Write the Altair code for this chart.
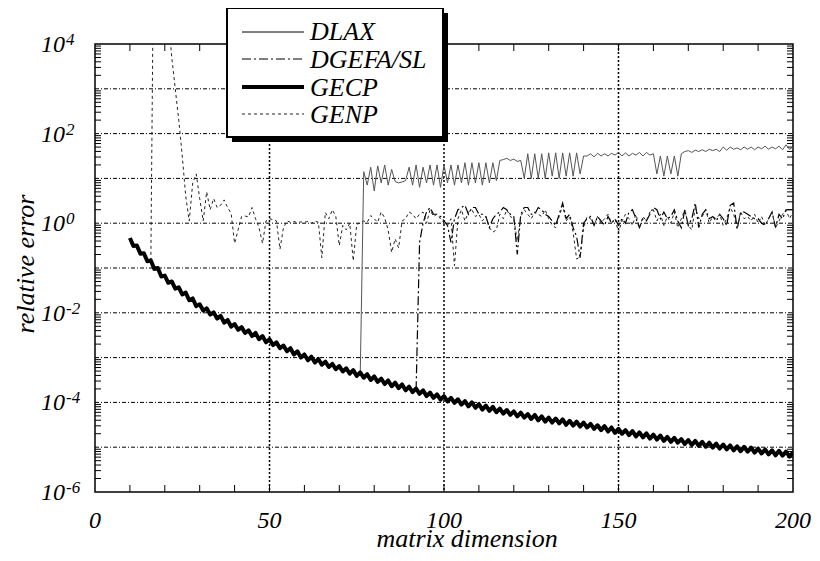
import altair as alt
import pandas as pd

FONT = "Liberation Serif"

# ---------------- data (log10 of relative error) ----------------
gecp_n = list(range(10, 201))
gecp_log10 = [
    -0.33, -0.51, -0.50, -0.68, -0.67, -0.85, -0.83, -1.02, -1.00, -1.19,
    -1.17, -1.33, -1.30, -1.46, -1.43, -1.59, -1.55, -1.72, -1.68, -1.85,
    -1.81, -1.95, -1.90, -2.04, -1.99, -2.13, -2.07, -2.22, -2.16, -2.31,
    -2.25, -2.38, -2.32, -2.45, -2.39, -2.52, -2.45, -2.59, -2.52, -2.66,
    -2.59, -2.72, -2.66, -2.79, -2.73, -2.86, -2.79, -2.93, -2.86, -3.00,
    -2.93, -3.06, -2.98, -3.11, -3.03, -3.16, -3.09, -3.21, -3.14, -3.26,
    -3.19, -3.31, -3.24, -3.36, -3.28, -3.41, -3.33, -3.45, -3.37, -3.50,
    -3.42, -3.54, -3.47, -3.59, -3.51, -3.64, -3.56, -3.68, -3.60, -3.73,
    -3.65, -3.77, -3.69, -3.81, -3.73, -3.86, -3.78, -3.90, -3.82, -3.94,
    -3.86, -3.98, -3.90, -4.01, -3.93, -4.05, -3.97, -4.09, -4.00, -4.12,
    -4.04, -4.16, -4.07, -4.19, -4.10, -4.22, -4.14, -4.25, -4.17, -4.28,
    -4.20, -4.31, -4.23, -4.34, -4.26, -4.37, -4.28, -4.40, -4.31, -4.43,
    -4.34, -4.45, -4.36, -4.47, -4.38, -4.50, -4.41, -4.52, -4.43, -4.54,
    -4.45, -4.56, -4.48, -4.59, -4.51, -4.62, -4.53, -4.65, -4.56, -4.68,
    -4.59, -4.70, -4.62, -4.73, -4.64, -4.76, -4.67, -4.78, -4.69, -4.81,
    -4.72, -4.83, -4.74, -4.86, -4.77, -4.88, -4.79, -4.90, -4.82, -4.93,
    -4.84, -4.95, -4.86, -4.97, -4.88, -4.99, -4.90, -5.01, -4.92, -5.03,
    -4.94, -5.05, -4.96, -5.07, -4.98, -5.09, -4.99, -5.10, -5.01, -5.12,
    -5.03, -5.14, -5.05, -5.16, -5.07, -5.18, -5.08, -5.19, -5.10, -5.21,
    -5.12,
]

genp_n = list(range(16, 201))
genp_log10 = [
    -0.84, 8.0, 9.0, 9.0,
    7.0, 4.6, 3.7, 3.0, 2.3, 1.5, 0.6, 0.05, 0.9, 1.1,
    0.55, 0.05, 0.7, 0.3, 0.55, 0.35, 0.4, 0.52, 0.35, 0.22,
    -0.45, -0.15, 0.15, 0.16, 0.14, 0.35, 0.1, -0.1, -0.45, 0.05,
    0.1, 0.08, 0.05, -0.58, -0.1, 0.05, 0.02, 0.04, 0.01, 0.03,
    0.02, 0.04, 0.0, 0.05, 0.02, -0.77, 0.24, 0.1, 0.3, 0.15,
    -0.5, -0.05, -0.15, 0.0, -0.84, -0.02, 0.0, 0.05, 0.02, 0.17,
    0.1, 0.02, 0.25, 0.12, -0.15, -0.65, -0.35, -0.55, 0.05, 0.1,
    0.25, 0.2, 0.1, 0.2, 0.25, 0.0, 0.3, 0.15, 0.2, 0.1,
    0.0, -0.05, 0.1, -0.95, 0.1, 0.3, 0.05, 0.25, 0.3, 0.15,
    0.2, 0.05, 0.15, -0.1, -0.2, -0.15, 0.2, 0.1, 0.3, 0.15,
    0.1, -0.4, 0.15, 0.3, 0.2, 0.1, 0.25, 0.2, 0.15, 0.3,
    0.1, -0.05, -0.1, 0.15, 0.4, 0.05, 0.15, -0.2, -0.8, -0.75,
    -0.1, 0.15, 0.1, -0.05, 0.15, 0.0, 0.1, 0.2, 0.0, 0.1,
    -0.2, 0.05, 0.2, 0.1, -0.05, 0.2, -0.1, 0.15, 0.05, 0.25,
    0.3, 0.05, 0.2, -0.05, 0.15, 0.0, 0.25, -0.1, 0.1, 0.3,
    -0.05, -0.15, 0.35, 0.1, 0.15, 0.3, 0.0, 0.15, 0.1, 0.2,
    -0.05, 0.1, 0.35, 0.2, -0.1, 0.25, 0.1, 0.15, 0.05, 0.2,
    0.0, 0.15, -0.05, 0.1, 0.25, -0.1, 0.05, 0.2, 0.3, 0.1,
    0.25,
]

dgefa_n = list(range(92, 201))
dgefa_log10 = [
    -3.73, -0.43, 0.0, 0.25, 0.35, 0.2, 0.2, 0.15,
    0.05, -0.05, -0.43, 0.1, 0.3, 0.35, 0.4, 0.2, 0.35, 0.35,
    0.2, 0.2, 0.15, -0.1, 0.1, 0.2, 0.25, 0.35, 0.3, 0.2,
    0.15, -0.7, 0.2, 0.35, 0.35, 0.2, 0.2, 0.35, 0.3, 0.2,
    0.15, 0.05, -0.05, 0.2, 0.45, 0.1, 0.2, -0.1, -0.3, -0.77,
    0.0, 0.1, 0.15, -0.05, 0.15, 0.05, -0.05, 0.15, 0.0, 0.1,
    -0.05, 0.1, 0.0, 0.25, 0.3, 0.1, -0.1, 0.1, 0.05, 0.2,
    0.35, 0.3, 0.1, 0.25, 0.1, 0.15, 0.3, 0.05, -0.1, 0.3,
    -0.05, 0.1, 0.45, -0.1, 0.2, 0.3, 0.1, 0.15, 0.05, 0.2,
    0.1, -0.05, 0.4, 0.45, -0.13, 0.25, 0.25, 0.2, 0.15, 0.1,
    0.1, 0.0, -0.05, 0.1, 0.25, -0.1, 0.2, 0.1, 0.3, 0.3,
    0.3,
]

dlax_n = list(range(76, 201))
dlax_log10 = [
    -3.37, 1.15, 0.85, 1.25,
    0.72, 1.28, 0.9, 1.3, 0.85, 1.2, 0.93, 0.9, 0.92, 0.95,
    1.25, 0.85, 1.3, 0.8, 1.25, 0.9, 1.3, 0.85, 1.3, 0.8,
    1.3, 0.9, 1.3, 0.85, 1.3, 0.9, 1.35, 0.85, 1.35, 0.9,
    1.35, 0.85, 1.35, 0.9, 1.35, 0.95, 1.4, 1.42, 1.45, 1.4,
    1.43, 1.38, 1.4, 1.0, 1.55, 1.0, 1.55, 1.0, 1.55, 1.0,
    1.57, 1.05, 1.57, 1.0, 1.57, 1.05, 1.57, 1.05, 1.57, 1.1,
    1.5, 1.5, 1.55, 1.48, 1.56, 1.5, 1.55, 1.5, 1.56, 1.52,
    1.58, 1.5, 1.57, 1.5, 1.56, 1.52, 1.58, 1.5, 1.58, 1.52,
    1.55, 1.1, 1.5, 1.05, 1.5, 1.1, 1.5, 1.05, 1.55, 1.6,
    1.62, 1.58, 1.63, 1.6, 1.64, 1.6, 1.65, 1.62, 1.65, 1.6,
    1.7, 1.63, 1.7, 1.65, 1.68, 1.64, 1.7, 1.65, 1.7, 1.64,
    1.7, 1.66, 1.72, 1.65, 1.7, 1.66, 1.72, 1.64, 1.75, 1.65,
    1.7,
]

series_names = ["DLAX", "DGEFA/SL", "GECP", "GENP"]
x_label_values = [0, 50, 100, 150, 200]
y_label_exponents = [4, 2, 0, -2, -4, -6]
x_grid_values = [50, 100, 150]
x_tick_values = list(range(10, 200, 10))

# ---------------- layout ----------------
W, H = 698, 448
xs = alt.Scale(domain=[0, 200], nice=False, zero=False)
ys = alt.Scale(type="log", domain=[1e-6, 1e4], nice=False)


def X(f="n"):
    return alt.X(f"{f}:Q", scale=xs, axis=None)


def Y(f="v"):
    return alt.Y(f"{f}:Q", scale=ys, axis=None)


def frame(n, logs):
    return pd.DataFrame({"n": n, "v": [10.0 ** l for l in logs]})


decades = [10.0 ** k for k in range(-5, 4)]
y_ticks = [m * 10.0 ** k for k in range(-6, 4) for m in range(2, 10)]

grid_h = alt.Chart(pd.DataFrame({"v": decades})).mark_rule(
    color="black", strokeWidth=1, strokeDash=[4, 2, 1, 2]
).encode(y=Y(), x=alt.value(0), x2=alt.value(W))

grid_v = alt.Chart(pd.DataFrame({"n": x_grid_values})).mark_rule(
    color="black", strokeWidth=1.5, strokeDash=[2, 2]
).encode(x=X(), y=alt.value(0), y2=alt.value(H))

yt = pd.DataFrame({"v": y_ticks})
tick_l = alt.Chart(yt).mark_rule(color="black", strokeWidth=1).encode(
    y=Y(), x=alt.value(0), x2=alt.value(6))
tick_r = alt.Chart(yt).mark_rule(color="black", strokeWidth=1).encode(
    y=Y(), x=alt.value(W - 6), x2=alt.value(W))
xt = pd.DataFrame({"n": x_tick_values})
tick_b = alt.Chart(xt).mark_rule(color="black", strokeWidth=1).encode(
    x=X(), y=alt.value(H - 7), y2=alt.value(H))
tick_t = alt.Chart(xt).mark_rule(color="black", strokeWidth=1).encode(
    x=X(), y=alt.value(0), y2=alt.value(7))

styles = {
    "DLAX": dict(color="#555555", strokeWidth=1),
    "DGEFA/SL": dict(color="black", strokeWidth=1.2, strokeDash=[9, 3, 2, 3]),
    "GECP": dict(color="black", strokeWidth=4, strokeJoin="round"),
    "GENP": dict(color="#222222", strokeWidth=1, strokeDash=[3, 3]),
}

line_dlax = alt.Chart(frame(dlax_n, dlax_log10)).mark_line(clip=True, **styles["DLAX"]).encode(x=X(), y=Y())
line_dgefa = alt.Chart(frame(dgefa_n, dgefa_log10)).mark_line(clip=True, **styles["DGEFA/SL"]).encode(x=X(), y=Y())
line_genp = alt.Chart(frame(genp_n, genp_log10)).mark_line(clip=True, **styles["GENP"]).encode(x=X(), y=Y())
line_gecp = alt.Chart(frame(gecp_n, gecp_log10)).mark_line(clip=True, **styles["GECP"]).encode(x=X(), y=Y())

# ---------------- legend (drawn by hand) ----------------
one = pd.DataFrame({"k": [0]})
BX0, BX1, BY0, BY1 = 132, 348, -36, 93
shadow = alt.Chart(one).mark_rect(color="black").encode(
    x=alt.value(BX0 + 5), x2=alt.value(BX1 + 5), y=alt.value(BY0 + 5), y2=alt.value(BY1 + 5))
box = alt.Chart(one).mark_rect(fill="white", stroke="black", strokeWidth=2).encode(
    x=alt.value(BX0), x2=alt.value(BX1), y=alt.value(BY0), y2=alt.value(BY1))

legend_layers = []
line_rows = [-12, 15, 43, 70]
text_rows = [-4, 24, 52, 79]
for i, name in enumerate(series_names):
    st = dict(styles[name])
    st.pop("strokeJoin", None)
    if name == "DLAX":
        st["color"] = "black"
    d = pd.DataFrame({"name": [name]})
    legend_layers.append(
        alt.Chart(d).mark_rule(**st).encode(
            x=alt.value(147), x2=alt.value(209), y=alt.value(line_rows[i])))
    legend_layers.append(
        alt.Chart(d).mark_text(align="left", baseline="alphabetic", font=FONT,
                               fontStyle="italic", fontSize=26, color="black").encode(
            x=alt.value(215), y=alt.value(text_rows[i]), text="name:N"))

# ---------------- axis labels ----------------
ylab = pd.DataFrame({
    "v": [10.0 ** e for e in y_label_exponents],
    "base": ["10"] * len(y_label_exponents),
    "exp": [str(e) for e in y_label_exponents],
})
ylab_base = alt.Chart(ylab).mark_text(align="right", baseline="alphabetic", dy=8, font=FONT,
                                      fontStyle="italic", fontSize=24, color="black").encode(
    y=Y(), x=alt.value(-30), text="base:N")
ylab_exp = alt.Chart(ylab).mark_text(align="left", baseline="alphabetic", dy=1, font=FONT,
                                     fontStyle="italic", fontSize=17, color="black").encode(
    y=Y(), x=alt.value(-29), text="exp:N")

xlab = pd.DataFrame({"n": x_label_values, "t": [str(v) for v in x_label_values]})
xlab_t = alt.Chart(xlab).mark_text(align="center", baseline="alphabetic", font=FONT,
                                   fontStyle="italic", fontSize=24, color="black").encode(
    x=X(), y=alt.value(484), text="t:N")

xtitle = alt.Chart(pd.DataFrame({"t": ["matrix dimension"]})).mark_text(
    align="center", baseline="alphabetic", font=FONT, fontStyle="italic", fontSize=26, color="black"
).encode(x=alt.value(372), y=alt.value(503), text="t:N")

ytitle = alt.Chart(pd.DataFrame({"t": ["relative error"]})).mark_text(
    align="center", baseline="middle", angle=270, font=FONT, fontStyle="italic", fontSize=26, color="black"
).encode(x=alt.value(-69), y=alt.value(220), text="t:N")

chart = alt.layer(
    grid_h, grid_v, tick_l, tick_r, tick_b, tick_t,
    line_dlax, line_dgefa, line_genp, line_gecp,
    shadow, box, *legend_layers,
    ylab_base, ylab_exp, xlab_t, xtitle, ytitle,
).properties(
    width=W, height=H,
    padding={"left": 87, "top": 36, "right": 19, "bottom": 61},
    autosize=alt.AutoSizeParams(type="none"),
).configure_view(stroke="black", strokeWidth=1.5)

chart.save("out.html", embed_options={"renderer": "svg", "actions": False})
